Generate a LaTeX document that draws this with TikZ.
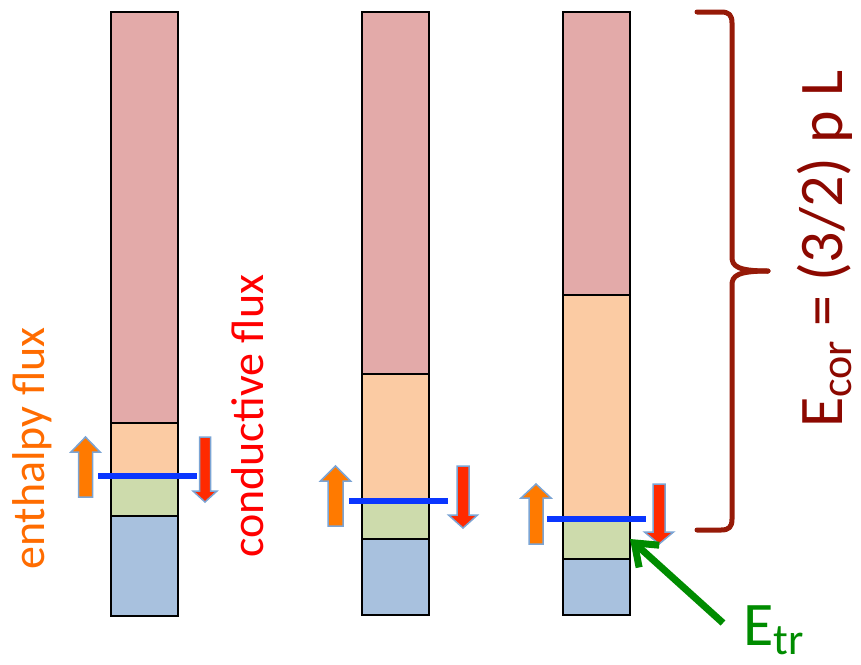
\documentclass[tikz,border=0pt]{standalone}
\usepackage{fontspec}
\setmainfont{Carlito}
\usetikzlibrary{arrows.meta}
\definecolor{pinkseg}{HTML}{E3AAA9}
\definecolor{peachseg}{HTML}{FBCBA3}
\definecolor{greenseg}{HTML}{CDDBAC}
\definecolor{blueseg}{HTML}{A8C1DE}
\definecolor{arrline}{HTML}{7BA4D4}
\definecolor{arrorange}{HTML}{FF7A00}
\definecolor{arrred}{HTML}{FF2A00}
\definecolor{levelblue}{HTML}{0A36FF}
\definecolor{bracecol}{HTML}{961A08}
\definecolor{ecorcol}{HTML}{8C0800}
\definecolor{etrgreen}{HTML}{008C00}
\definecolor{enthcol}{HTML}{FF6C00}
\definecolor{condcol}{HTML}{FF0000}
\newcommand{\blockup}[6]{%
  \filldraw[uparrowstyle] (#1-#5,#4) -- (#1-#5,#3) -- (#1-#6,#3) -- (#1,#2) -- (#1+#6,#3) -- (#1+#5,#3) -- (#1+#5,#4) -- cycle;}
\newcommand{\blockdown}[6]{%
  \filldraw[downarrowstyle] (#1-#5,#4) -- (#1-#5,#3) -- (#1-#6,#3) -- (#1,#2) -- (#1+#6,#3) -- (#1+#5,#3) -- (#1+#5,#4) -- cycle;}
\begin{document}
\begin{tikzpicture}[x=1pt,y=-1pt,
  seg/.style={draw=black, line width=1.8pt, inner sep=0pt, outer sep=0pt, anchor=north west, minimum width=67pt},
  uparrowstyle/.style={fill=arrorange, draw=arrline, line width=1.5pt, line join=miter},
  downarrowstyle/.style={fill=arrred, draw=arrline, line width=1.5pt, line join=miter},
  levelline/.style={draw=levelblue, line width=6pt},
  bracestyle/.style={draw=bracecol, line width=5pt, line cap=round, line join=round},
  fluxlabel/.style={rotate=90, anchor=base west, inner sep=0pt, font=\fontsize{46}{50}\selectfont},
  biglabel/.style={anchor=base west, inner sep=0pt, font=\fontsize{62}{68}\selectfont},
  etrarrow/.style={draw=etrgreen, line width=7pt, -{Straight Barb[length=20pt,width=30pt]}}
]
\useasboundingbox (0,0) rectangle (861,664);
% column 1
\node[seg, fill=pinkseg,  minimum height=411pt] (p1) at (111,12) {};
\node[seg, fill=peachseg, minimum height=53pt]  (o1) at (111,423) {};
\node[seg, fill=greenseg, minimum height=40pt]  (g1) at (111,476) {};
\node[seg, fill=blueseg,  minimum height=100pt] (b1) at (111,516) {};
% column 2
\node[seg, fill=pinkseg,  minimum height=362pt] (p2) at (362,12) {};
\node[seg, fill=peachseg, minimum height=127pt] (o2) at (362,374) {};
\node[seg, fill=greenseg, minimum height=38pt]  (g2) at (362,501) {};
\node[seg, fill=blueseg,  minimum height=76pt]  (b2) at (362,539) {};
% column 3
\node[seg, fill=pinkseg,  minimum height=283pt] (p3) at (563,12) {};
\node[seg, fill=peachseg, minimum height=224pt] (o3) at (563,295) {};
\node[seg, fill=greenseg, minimum height=40pt]  (g3) at (563,519) {};
\node[seg, fill=blueseg,  minimum height=56pt]  (b3) at (563,559) {};
% level lines
\draw[levelline] (98,476) -- (197,476);
\draw[levelline] (349,501) -- (448,501);
\draw[levelline] (547,519) -- (646,519);
% enthalpy (up) arrows
\blockup{85.5}{437}{452}{497}{7}{14.5}
\blockup{335.5}{466}{481}{526}{7.5}{15}
\blockup{536}{484}{498}{544}{7}{15}
% conductive (down) arrows
\blockdown{205}{502}{491}{437}{5.5}{12}
\blockdown{463}{528}{515}{466}{6}{14.5}
\blockdown{659}{544}{532}{484}{6}{14.5}
% brace
\draw[bracestyle] (697,12) -- (721,12) .. controls (729,12) and (732,15) .. (732,23) -- (732,257)
  .. controls (732,266) and (737,271) .. (768,271);
\draw[bracestyle] (768,271) .. controls (737,271) and (732,276) .. (732,285) -- (732,519)
  .. controls (732,527) and (729,530) .. (721,530) -- (697,530);
% labels
\node[fluxlabel, text=enthcol] (enth) at (44,570) {enthalpy flux};
\node[fluxlabel, text=condcol] (cond) at (263,558) {conductive flux};
\node[biglabel, rotate=90, text=ecorcol] (ecor) at (842,428) {E\raisebox{-9pt}{\fontsize{44}{48}\selectfont cor} = (3/2) p L};
\node[biglabel, text=etrgreen] (etr) at (743,645) {E\raisebox{-9pt}{\fontsize{44}{48}\selectfont tr}};
\coordinate (etrstart) at (723,623);
\draw[etrarrow] (etrstart) -- (g3.east);
\end{tikzpicture}
\end{document}
